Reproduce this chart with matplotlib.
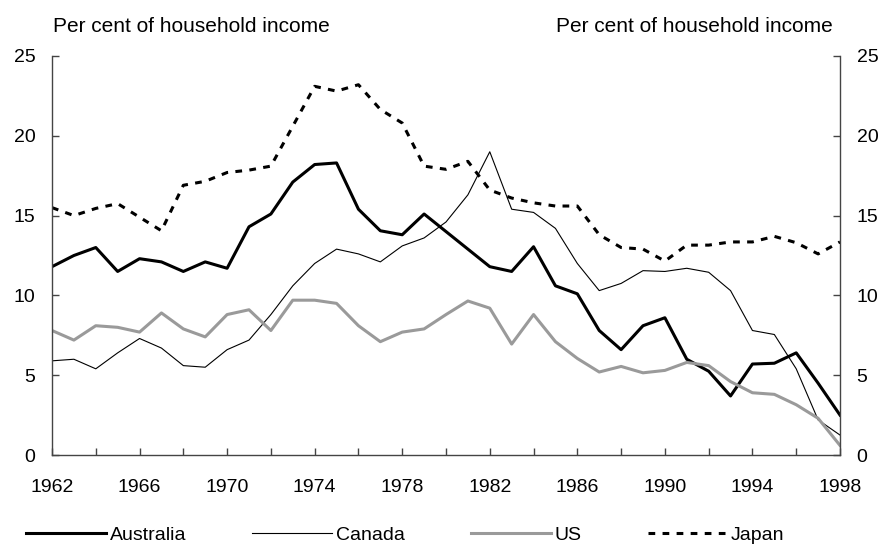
import numpy as np
import matplotlib
matplotlib.use('Agg')
from matplotlib import pyplot as plt

# Data
years = list(range(1962, 1999))

australia = [11.8, 12.5, 13.0, 11.5, 12.3, 12.1, 11.5, 12.1, 11.7, 14.3,
             15.1, 17.1, 18.2, 18.3, 15.4, 14.05, 13.8, 15.1, 14.0, 12.9,
             11.8, 11.5, 13.05, 10.6, 10.1, 7.8, 6.6, 8.1, 8.6, 6.0,
             5.25, 3.7, 5.7, 5.75, 6.4, 4.5, 2.5]

canada = [5.9, 6.0, 5.4, 6.4, 7.3, 6.7, 5.6, 5.5, 6.6, 7.2,
          8.8, 10.6, 12.0, 12.9, 12.6, 12.1, 13.1, 13.6, 14.6, 16.3,
          19.0, 15.4, 15.2, 14.2, 12.0, 10.3, 10.75, 11.55, 11.5, 11.7,
          11.45, 10.3, 7.8, 7.55, 5.4, 2.2, 1.25]

us = [7.8, 7.2, 8.1, 8.0, 7.7, 8.9, 7.9, 7.4, 8.8, 9.1,
      7.8, 9.7, 9.7, 9.5, 8.1, 7.1, 7.7, 7.9, 8.8, 9.65,
      9.2, 6.95, 8.8, 7.1, 6.05, 5.2, 5.55, 5.15, 5.3, 5.8,
      5.6, 4.6, 3.9, 3.8, 3.15, 2.3, 0.6]

japan = [15.5, 15.0, 15.45, 15.75, 14.9, 14.05, 16.9, 17.15, 17.7, 17.85,
         18.1, 20.6, 23.1, 22.8, 23.2, 21.65, 20.8, 18.1, 17.9, 18.4,
         16.6, 16.1, 15.8, 15.6, 15.6, 13.8, 13.0, 12.9, 12.15, 13.15,
         13.15, 13.35, 13.35, 13.7, 13.3, 12.6, 13.35]

label_years = list(range(1962, 1999, 4))

plt.rcParams['font.family'] = ['Liberation Sans', 'DejaVu Sans']
plt.rcParams['font.size'] = 14

fig = plt.figure(figsize=(8.82, 5.48), dpi=100)
ax = fig.add_axes([52/882, 1 - 455/548, (840 - 52)/882, (455 - 56)/548])

ax.plot(years, australia, color='black', lw=2.2, label='Australia')
ax.plot(years, canada, color='black', lw=0.8, label='Canada')
ax.plot(years, us, color='#9a9a9a', lw=2.2, label='US')
ax.plot(years, japan, color='black', lw=2.2, dashes=(2.2, 2.4), label='Japan')

ax.set_xlim(1962, 1998)
ax.set_ylim(0, 25)
ax.set_yticks([0, 5, 10, 15, 20, 25])
ax.set_xticks(range(1962, 1999, 2))
ax.set_xticklabels([str(y) if y in label_years else '' for y in range(1962, 1999, 2)])

axis_col = '#444444'
for s in ['left', 'right', 'bottom']:
    ax.spines[s].set_color(axis_col)
    ax.spines[s].set_linewidth(1.0)
ax.spines['top'].set_visible(False)

ax.tick_params(axis='x', direction='in', length=5, width=1, color=axis_col, pad=17)
ax.tick_params(axis='y', direction='in', length=5, width=1, color=axis_col, pad=12,
               right=True, labelright=True)

fig.text(53/882, 1 - 26/548, 'Per cent of household income', ha='left', va='center', fontsize=15)
fig.text(833/882, 1 - 26/548, 'Per cent of household income', ha='right', va='center', fontsize=15)

fig.legend(loc='center left', bbox_to_anchor=(26/882, 1 - 535/548),
           bbox_transform=fig.transFigure, ncol=4, frameon=False,
           handlelength=4.1, handletextpad=0.2, columnspacing=3.4,
           borderpad=0, borderaxespad=0)

plt.savefig('out.png', dpi=100)
